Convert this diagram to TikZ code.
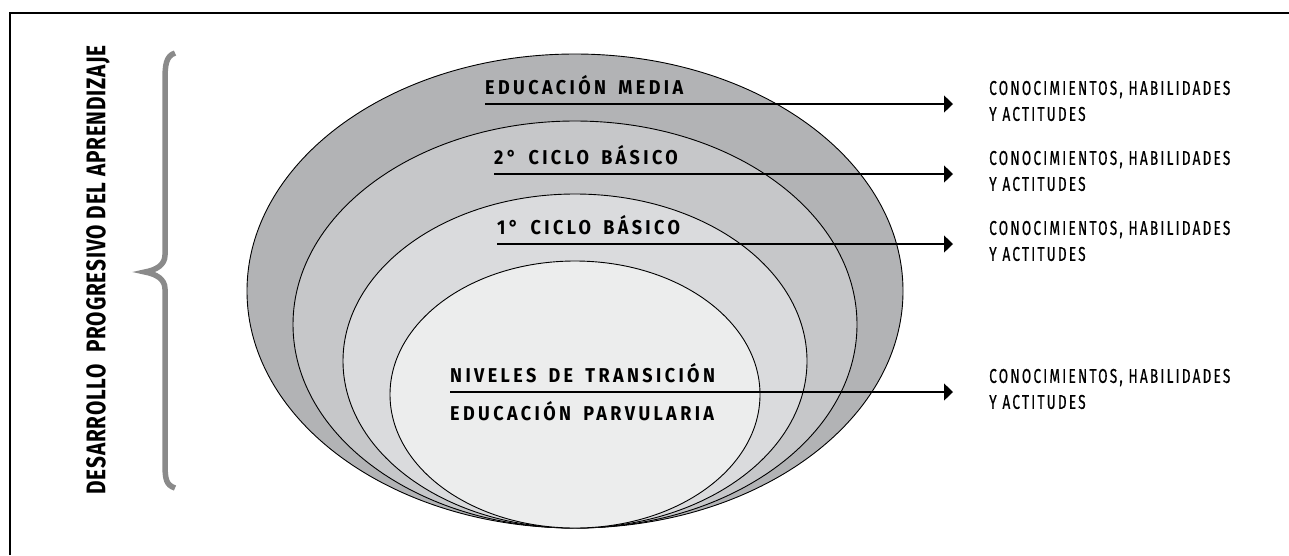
\documentclass[tikz,border=0pt]{standalone}
\usepackage{fontspec}
\usetikzlibrary{positioning,arrows.meta}
\newfontfamily\levelfont[FakeStretch=0.9,LetterSpace=17,WordSpace=1.6]{Fira Sans}
\newfontfamily\outfont[FakeStretch=0.68,LetterSpace=11,FakeBold=0.6]{Fira Sans}
\newfontfamily\sidefont[FakeStretch=0.77,LetterSpace=3]{Fira Sans}
\definecolor{fillmedia}{RGB}{178,179,181}
\definecolor{fillsegundo}{RGB}{198,199,201}
\definecolor{fillprimero}{RGB}{218,219,221}
\definecolor{fillparv}{RGB}{236,237,237}
\definecolor{bracegray}{RGB}{138,138,138}
\begin{document}
\begin{tikzpicture}[x=1pt,y=-1pt,
  level/.style={anchor=south west,inner xsep=0pt,inner ysep=9pt,font=\levelfont\bfseries\fontsize{20}{24}\selectfont},
  outcome/.style={inner sep=0pt,align=left,font=\outfont\fontsize{20}{26}\selectfont},
  flow/.style={-{Triangle[length=9pt,width=17pt]},line width=1.2pt},
  ring/.style={draw=black,line width=0.9pt}]
\useasboundingbox (0,0) rectangle (1289,555);
\draw[line width=1.5pt] (10,555) -- (10,13) -- (1289,13);
\node[rotate=90,inner sep=0pt,font=\sidefont\bfseries\fontsize{27}{30}\selectfont] (side) at (98,270) {DESARROLLO\ \ PROGRESIVO DEL APRENDIZAJE};
\draw[bracegray,line width=5.5pt] (175,53) .. controls (166,56) and (165,65) .. (165,80) -- (165,255) .. controls (165,265) and (156,270) .. (145,272) .. controls (156,274) and (165,279) .. (165,289) -- (165,463) .. controls (165,479) and (166,485) .. (175,488);
\filldraw[ring,fill=fillmedia] (575,291) ellipse [x radius=328,y radius=237];
\filldraw[ring,fill=fillsegundo] (575,324.5) ellipse [x radius=282,y radius=203.5];
\filldraw[ring,fill=fillprimero] (575,361) ellipse [x radius=232,y radius=167];
\filldraw[ring,fill=fillparv] (575,394.5) ellipse [x radius=185,y radius=133.5];
\coordinate (tip1) at (953,104);
\coordinate (tip2) at (953,174);
\coordinate (tip3) at (953,244);
\coordinate (tip4) at (953,392);
\node[level] (media) at (485,104) {EDUCACIÓN MEDIA};
\node[level] (segundo) at (494,174) {2° CICLO BÁSICO};
\node[level] (primero) at (497,244) {1° CICLO BÁSICO};
\node[level] (niveles) at (450,392) {NIVELES DE TRANSICIÓN};
\node[level,anchor=base west] (parv) at (450,420) {EDUCACIÓN PARVULARIA};
\node[outcome,right=36pt of tip1,yshift=3pt] (out1) {CONOCIMIENTOS, HABILIDADES\\Y ACTITUDES};
\node[outcome,right=36pt of tip2,yshift=3pt] (out2) {CONOCIMIENTOS, HABILIDADES\\Y ACTITUDES};
\node[outcome,right=36pt of tip3,yshift=3pt] (out3) {CONOCIMIENTOS, HABILIDADES\\Y ACTITUDES};
\node[outcome,right=36pt of tip4,yshift=3pt] (out4) {CONOCIMIENTOS, HABILIDADES\\Y ACTITUDES};
\draw[flow] (media.south west) -- (tip1);
\draw[flow] (segundo.south west) -- (tip2);
\draw[flow] (primero.south west) -- (tip3);
\draw[flow] (niveles.south west) -- (tip4);
\end{tikzpicture}
\end{document}
